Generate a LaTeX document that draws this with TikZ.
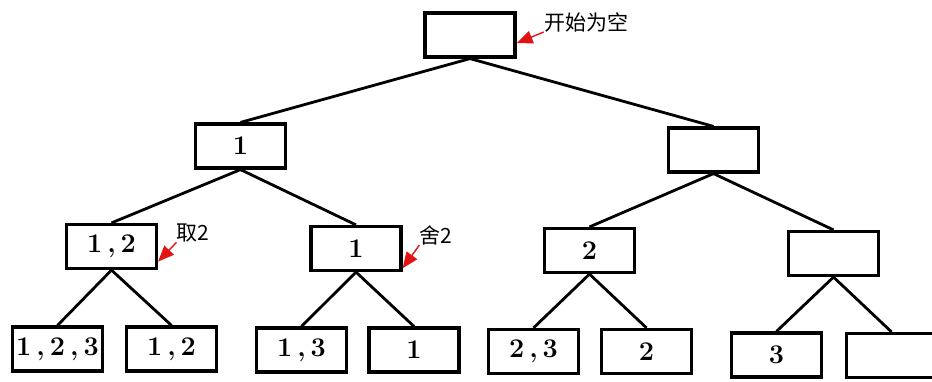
\documentclass[tikz,border=0pt]{standalone}
\usepackage{fontspec}
\newfontfamily\cjk{Noto Sans CJK SC}
\usetikzlibrary{arrows.meta}
\definecolor{markred}{RGB}{225,20,20}
\newcommand{\cm}{\hspace{5pt},\hspace{5pt}}
\tikzset{
  box/.style={draw, line width=3.2pt, minimum width=90pt, minimum height=44pt,
    inner sep=0pt, font=\fontsize{27}{27}\selectfont\bfseries},
  edge/.style={line width=2.8pt},
  note/.style={inner sep=0pt, font=\fontsize{21}{21}\selectfont\cjk},
  pick/.style={draw=markred, line width=1.4pt,
    -{Triangle[length=16pt,width=13pt,fill=markred]}}
}

\begin{document}
\begin{tikzpicture}[x=1pt,y=-1pt]

\useasboundingbox (0,0) rectangle (932,381);

% Define nodes

\node[box] (root) at (470,35) {};

\node[box] (a)  at (240.5,146) {1};
\node[box] (b)  at (713.5,150) {};

\node[box] (aa) at (111.5,246.5) {1\cm 2};
\node[box] (ab) at (356,248.5) {1};
\node[box] (ba) at (589.5,250.5) {2};
\node[box] (bb) at (833.5,253.5) {};

\node[box] (aaa) at (57.5,349) {1\cm 2\cm 3};
\node[box] (aab) at (171.5,349) {1\cm 2};
\node[box] (aba) at (301.5,350) {1\cm 3};
\node[box] (abb) at (414,350) {1};
\node[box] (baa) at (533.5,351.5) {2\cm 3};
\node[box] (bab) at (646.5,351.5) {2};
\node[box] (bba) at (776.5,355) {3};
\node[box] (bbb) at (891.5,355.5) {};

% Notes

\node[note] (empty) at (586,22) {开始为空};
\node[note] (take)  at (193,233) {取2};
\node[note] (drop)  at (436,235) {舍2};

% Connect the nodes

\draw[edge] (root.south) -- (a.north);
\draw[edge] (root.south) -- (b.north);

\draw[edge] (a.south) -- (aa.north);
\draw[edge] (a.south) -- (ab.north);
\draw[edge] (b.south) -- (ba.north);
\draw[edge] (b.south) -- (bb.north);

\draw[edge] (aa.south) -- (aaa.north);
\draw[edge] (aa.south) -- (aab.north);
\draw[edge] (ab.south) -- (aba.north);
\draw[edge] (ab.south) -- (abb.north);
\draw[edge] (ba.south) -- (baa.north);
\draw[edge] (ba.south) -- (bab.north);
\draw[edge] (bb.south) -- (bba.north);
\draw[edge] (bb.south) -- (bbb.north);

\draw[pick] (empty.south west) -- (root.-10);
\draw[pick] (take.south west) -- (aa.-18);
\draw[pick] (drop.south west) -- (ab.-23);

\end{tikzpicture}
\end{document}
